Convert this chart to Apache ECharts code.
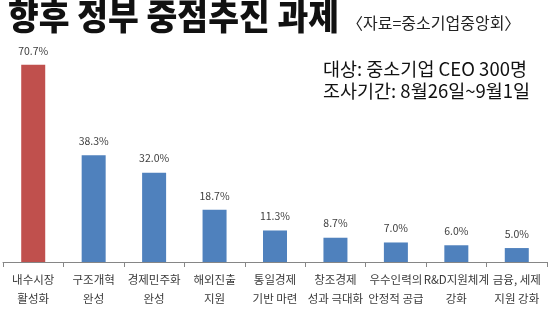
<!DOCTYPE html>
<html><head><meta charset="utf-8">
<script src="https://cdn.jsdelivr.net/npm/echarts@6/dist/echarts.min.js"></script>
<style>html,body{margin:0;padding:0;background:#fff}#c{width:553px;height:322px}</style>
</head><body><div id="c"></div>
<script>
const categories = ['내수시장\n활성화','구조개혁\n완성','경제민주화\n완성','해외진출\n지원','통일경제\n기반 마련','창조경제\n성과 극대화','우수인력의\n안정적 공급','R&D지원체계\n강화','금융, 세제\n지원 강화'];
const values = [70.7, 38.3, 32.0, 18.7, 11.3, 8.7, 7.0, 6.0, 5.0];
const title = '향후 정부 중점추진 과제';
const source = '〈자료=중소기업중앙회〉';
const notes = ['대상: 중소기업 CEO 300명', '조사기간: 8월26일~9월1일'];
const F = '"Noto Sans CJK KR", "Noto Sans", sans-serif';
const chart = echarts.init(document.getElementById('c'), null, {renderer:'canvas'});
chart.setOption({
  animation:false,
  grid:{left:3, right:6, top:50, bottom:60, containLabel:false},
  xAxis:{type:'category', data:categories,
    axisLine:{lineStyle:{color:'#868686', width:1}},
    axisTick:{show:true, alignWithLabel:false, length:5, lineStyle:{color:'#868686'}},
    axisLabel:{interval:0, fontFamily:F, fontSize:11.5, color:'#3a3a3a', lineHeight:19, margin:8}},
  yAxis:{type:'value', min:0, max:76, show:false, splitLine:{show:false}},
  series:[{type:'bar', barWidth:24,
    data: values.map((v,i)=>({value:v, itemStyle:{color: i===0?'#C0504D':'#4F81BD'}})),
    label:{show:true, position:'top', distance:9, fontFamily:F, fontSize:10.5, color:'#404040',
      formatter:p=>p.value.toFixed(1)+'%'}}],
  graphic:[
    {type:'text', x:8, y:-2, scaleX:0.93, style:{text:title, font:'900 36px '+F, fill:'#111',
      shadowColor:'rgba(0,0,0,0.35)', shadowOffsetX:3, shadowOffsetY:3, shadowBlur:2}},
    {type:'text', left:347, top:15, style:{text:source, font:'16px '+F, fill:'#222'}},
    {type:'text', left:323, top:60, style:{text:notes[0], font:'18.5px '+F, fill:'#111'}},
    {type:'text', left:323, top:82, style:{text:notes[1], font:'18.5px '+F, fill:'#111'}}
  ]
});
</script></body></html>
